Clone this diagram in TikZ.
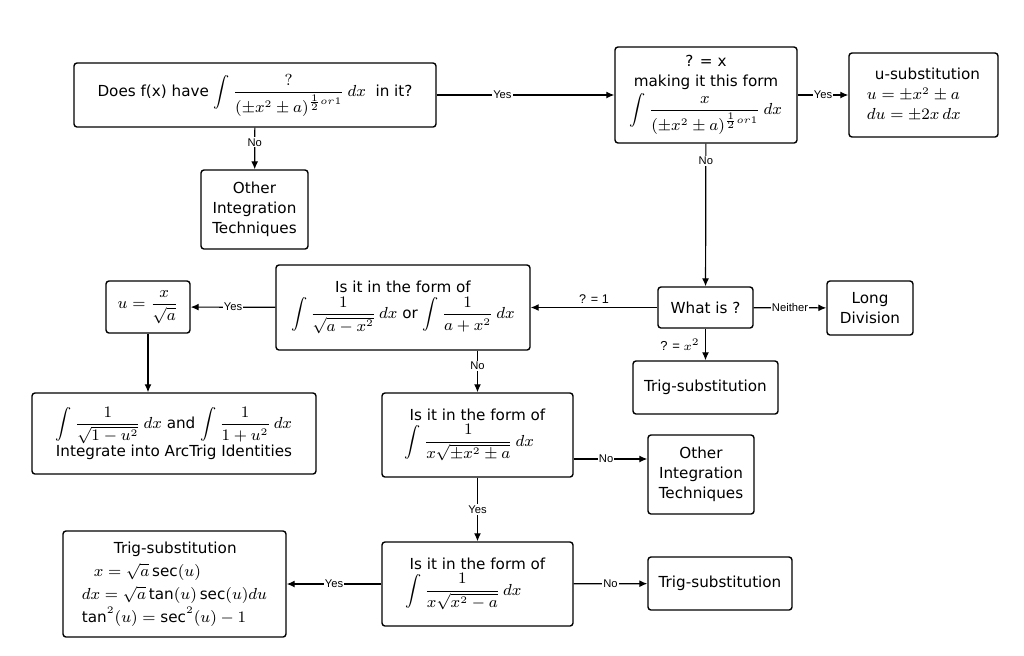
\documentclass[tikz,border=0pt]{standalone}
\usepackage{amsmath,amssymb}
\usepackage{fontspec}
\setmainfont{DejaVu Sans}
\newfontfamily\lblfont{Liberation Sans}
\usetikzlibrary{arrows.meta}

\tikzset{
  box/.style={draw, rounded corners=1.5pt, line width=0.7pt, align=center,
    inner sep=1.5pt, font=\fontsize{7.6}{10}\selectfont},
  lbl/.style={fill=white, inner sep=0.6pt, font=\lblfont\fontsize{5.6}{6}\selectfont},
  >={Latex[length=4pt,width=3.5pt]}
}

\begin{document}
\begin{tikzpicture}[x=0.5pt, y=-0.5pt, line width=0.6pt]
\useasboundingbox (0,0) rectangle (1024,655);

% top row
\node[box, minimum width=181pt, minimum height=32pt] (q) at (255,95)
  {Does f(x) have $\displaystyle\int\frac{?}{(\pm x^2\pm a)^{\frac12 or1}}\,dx$\ \ in it?};
\node[box, minimum width=53.5pt, minimum height=39.5pt] (other1) at (254.5,209.5)
  {Other\\Integration\\Techniques};
\node[box, minimum width=91pt, minimum height=48pt] (form) at (706,95)
  {? = x\\making it this form\\[1pt]$\displaystyle\int\frac{x}{(\pm x^2\pm a)^{\frac12 or1}}\,dx$};
\node[box, minimum width=74.5pt, minimum height=42pt, align=left] (usub) at (923.5,95)
  {\hspace*{4pt}u-substitution\\$u=\pm x^2\pm a$\\$du=\pm 2x\,dx$};

% middle row
\node[box, minimum width=47.5pt, minimum height=20.5pt] (what) at (705.5,307.5) {What is ?};
\node[box, minimum width=43pt, minimum height=27pt] (long) at (870,308) {Long\\Division};
\node[box, minimum width=72.5pt, minimum height=26.5pt] (trig1) at (705.5,387.5) {Trig-substitution};
\node[box, minimum width=127pt, minimum height=42.5pt] (arc) at (403,307.5)
  {Is it in the form of\\[1pt]$\displaystyle\int\frac{1}{\sqrt{a-x^2}}\,dx$ or $\displaystyle\int\frac{1}{a+x^2}\,dx$};
\node[box, minimum width=42pt, minimum height=26pt] (usqrt) at (148,307)
  {$u=\dfrac{x}{\sqrt{a}}$};
\node[box, minimum width=142pt, minimum height=40.5pt] (arctrig) at (174,433.5)
  {$\displaystyle\int\frac{1}{\sqrt{1-u^2}}\,dx$ and $\displaystyle\int\frac{1}{1+u^2}\,dx$\\Integrate into ArcTrig Identities};
\node[box, minimum width=95.5pt, minimum height=42pt] (sec1) at (477.5,435)
  {Is it in the form of\\[1pt]$\displaystyle\int\frac{1}{x\sqrt{\pm x^2\pm a}}\,dx$\hspace*{8pt}};
\node[box, minimum width=53pt, minimum height=39.5pt] (other2) at (701,474.5)
  {Other\\Integration\\Techniques};

% bottom row
\node[box, minimum width=95.5pt, minimum height=42pt] (sec2) at (477.5,584)
  {Is it in the form of\\[1pt]$\displaystyle\int\frac{1}{x\sqrt{x^2-a}}\,dx$\hspace*{14pt}};
\node[box, minimum width=111.5pt, minimum height=53pt, align=left,
  font=\fontsize{7.6}{11.5}\selectfont] (trigsub) at (174.5,584)
  {\hspace*{16pt}Trig-substitution\\\hspace*{6pt}$x=\sqrt{a}\sec(u)$\\$dx=\sqrt{a}\tan(u)\sec(u)du$\\$\tan^2(u)=\sec^2(u)-1$};
\node[box, minimum width=72pt, minimum height=26.5pt] (trig2) at (720,583.5) {Trig-substitution};

\coordinate (s1) at ([yshift=-12pt]sec1.east);

\path[->]
(q) edge node[lbl, pos=0.37] {Yes} (form)
    edge node[lbl, pos=0.35] {No} (other1)
(form) edge node[lbl] {Yes} (usub)
    edge node[lbl, pos=0.12] {No} (what)
(what) edge node[lbl, fill=none, above=1pt, font=\lblfont\fontsize{6.3}{7}\selectfont] {? = 1} (arc)
    edge node[lbl] {Neither} (long)
    edge node[lbl, fill=none, left=2pt, font=\lblfont\fontsize{6.5}{7}\selectfont] {? = $x^2$} (trig1)
(arc) edge node[lbl] {Yes} (usqrt)
(usqrt.south) edge (usqrt.south |- arctrig.north)
(sec1.north |- arc.south) edge node[lbl, pos=0.37] {No} (sec1.north)
(s1) edge node[lbl, pos=0.44] {No} (s1 -| other2.west)
(sec1) edge node[lbl] {Yes} (sec2)
(sec2) edge node[lbl] {Yes} (trigsub)
    edge node[lbl] {No} (trig2);
\end{tikzpicture}
\end{document}
